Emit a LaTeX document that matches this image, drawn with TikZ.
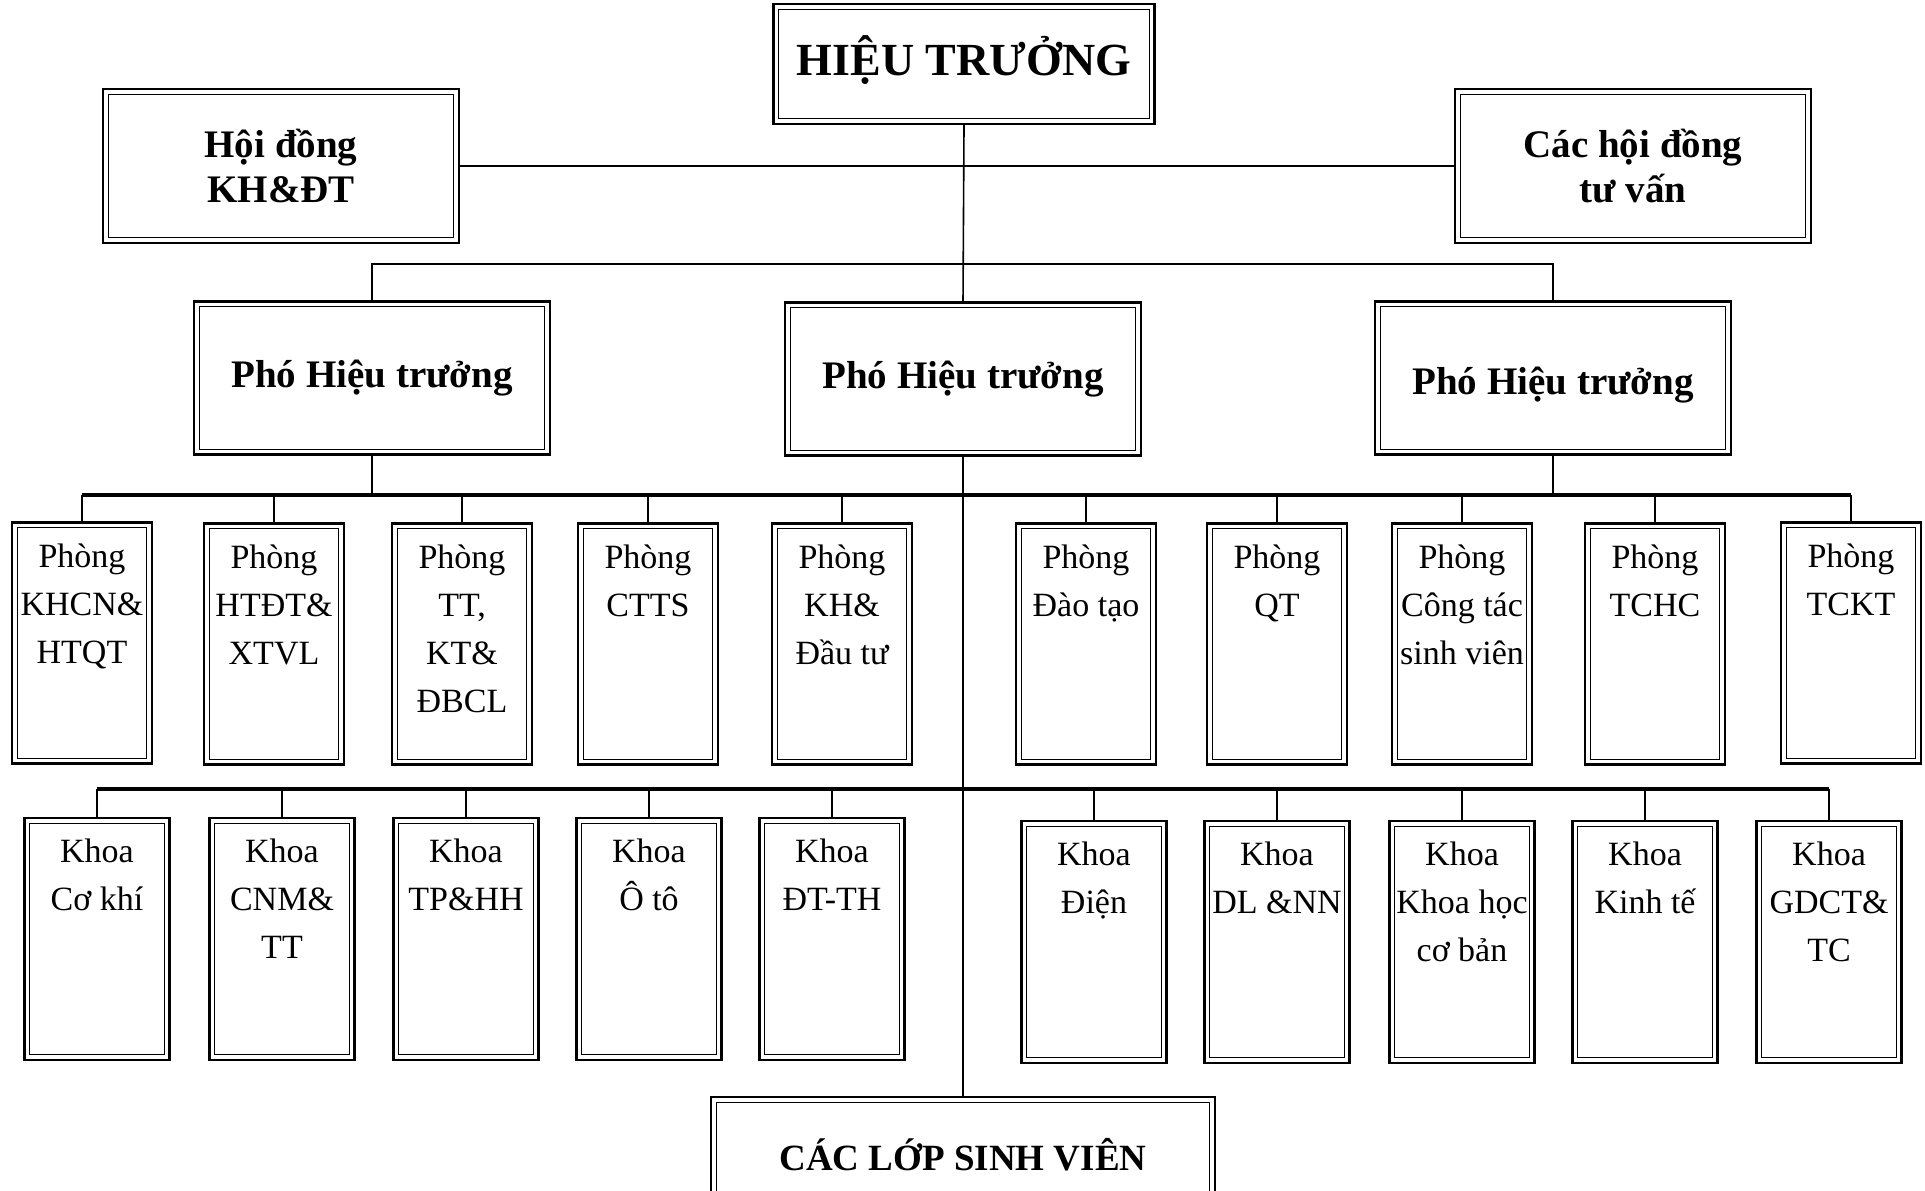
\documentclass[tikz,border=0pt]{standalone}
\usepackage{fontspec}
\setmainfont{Liberation Serif}

\tikzset{
  box/.style={draw, line width=1.2pt, inner sep=0pt,
    path picture={\draw[line width=0.6pt]
      ([shift={(2.6pt,2.6pt)}]path picture bounding box.south west) rectangle
      ([shift={(-2.6pt,-2.6pt)}]path picture bounding box.north east);}},
  head/.style={box, align=center, font=\bfseries\fontsize{19.5}{22.5}\selectfont,
    minimum width=178pt, minimum height=77pt},
  office/.style={box, minimum width=70pt, minimum height=120.5pt},
  faculty/.style={box, minimum width=72.5pt, minimum height=121pt},
  txt/.style={anchor=north, align=center, inner sep=0pt, yshift=-11pt,
    font=\fontsize{17}{24}\selectfont},
  link/.style={line width=0.8pt},
  bus/.style={line width=1.6pt}
}

\begin{document}
\begin{tikzpicture}[x=0.5pt, y=-0.5pt]
\useasboundingbox (0,0) rectangle (1925,1190);

% top level
\node[box, font=\bfseries\fontsize{23}{26}\selectfont, minimum width=190.5pt, minimum height=60pt] (ht) at (964,64) {\raisebox{1.8pt}[\height][\depth]{HIỆU TRƯỞNG}};
\node[head] (hd) at (281,166) {Hội đồng\\KH\&ĐT};
\node[head] (cv) at (1633,166) {Các hội đồng\\tư vấn};

% vice rectors
\node[head, minimum height=76.5pt] (pht1) at (372,378) {Phó Hiệu trưởng};
\node[head, minimum height=76.5pt] (pht2) at (963,379) {Phó Hiệu trưởng};
\node[head, minimum height=76.5pt] (pht3) at (1553,378) {\raisebox{-3.5pt}[\height][\depth]{Phó Hiệu trưởng}};

% offices
\node[office, label={[txt]north:{Phòng\\KHCN\&\\HTQT}}] (p1) at (82,643) {};
\node[office, label={[txt]north:{Phòng\\HTĐT\&\\XTVL}}] (p2) at (274,644) {};
\node[office, label={[txt]north:{Phòng\\TT,\\KT\&\\ĐBCL}}] (p3) at (462,644) {};
\node[office, label={[txt]north:{Phòng\\CTTS}}] (p4) at (648,644) {};
\node[office, label={[txt]north:{Phòng\\KH\&\\Đầu tư}}] (p5) at (842,644) {};
\node[office, label={[txt]north:{Phòng\\Đào tạo}}] (p6) at (1086,644) {};
\node[office, label={[txt]north:{Phòng\\QT}}] (p7) at (1277,644) {};
\node[office, label={[txt]north:{Phòng\\Công tác\\sinh viên}}] (p8) at (1462,644) {};
\node[office, label={[txt]north:{Phòng\\TCHC}}] (p9) at (1655,644) {};
\node[office, label={[txt]north:{Phòng\\TCKT}}] (p10) at (1851,643) {};

% faculties
\node[faculty, label={[txt]north:{Khoa\\Cơ khí}}] (k1) at (97,939) {};
\node[faculty, label={[txt]north:{Khoa\\CNM\&\\TT}}] (k2) at (282,939) {};
\node[faculty, label={[txt]north:{Khoa\\TP\&HH}}] (k3) at (466,939) {};
\node[faculty, label={[txt]north:{Khoa\\Ô tô}}] (k4) at (649,939) {};
\node[faculty, label={[txt]north:{Khoa\\ĐT-TH}}] (k5) at (832,939) {};
\node[faculty, label={[txt]north:{Khoa\\Điện}}] (k6) at (1094,942) {};
\node[faculty, label={[txt]north:{Khoa\\DL \&NN}}] (k7) at (1277,942) {};
\node[faculty, label={[txt]north:{Khoa\\Khoa học\\cơ bản}}] (k8) at (1462,942) {};
\node[faculty, label={[txt]north:{Khoa\\Kinh tế}}] (k9) at (1645,942) {};
\node[faculty, label={[txt]north:{Khoa\\GDCT\&\\TC}}] (k10) at (1829,942) {};

% students
\node[box, anchor=north, minimum width=252pt, minimum height=100pt,
  label={[txt, font=\bfseries\fontsize{18.5}{22}\selectfont, yshift=-10pt]north:{CÁC LỚP SINH VIÊN}}] (lop) at (963,1096) {};

% connectors
\coordinate (pline) at (0,264);
\coordinate (pbus) at (0,495);
\coordinate (kbus) at (0,789);

\draw[link] (hd.east) -- (cv.west);
\draw[link] (ht.south) -- (pht2.north);
\draw[link] (pht1.north) -- (pht1.north |- pline) -- (pht3.north |- pline) -- (pht3.north);
\draw[link] (pht1.south) -- (pht1.south |- pbus);
\draw[link] (pht3.south) -- (pht3.south |- pbus);
\draw[link] (pht2.south) -- (lop.north);

\draw[bus] (p1.north |- pbus) -- (p10.north |- pbus);
\draw[link] (p1.north |- pbus) -- (p1.north);
\draw[link] (p2.north |- pbus) -- (p2.north);
\draw[link] (p3.north |- pbus) -- (p3.north);
\draw[link] (p4.north |- pbus) -- (p4.north);
\draw[link] (p5.north |- pbus) -- (p5.north);
\draw[link] (p6.north |- pbus) -- (p6.north);
\draw[link] (p7.north |- pbus) -- (p7.north);
\draw[link] (p8.north |- pbus) -- (p8.north);
\draw[link] (p9.north |- pbus) -- (p9.north);
\draw[link] (p10.north |- pbus) -- (p10.north);

\draw[bus] (k1.north |- kbus) -- (k10.north |- kbus);
\draw[link] (k1.north |- kbus) -- (k1.north);
\draw[link] (k2.north |- kbus) -- (k2.north);
\draw[link] (k3.north |- kbus) -- (k3.north);
\draw[link] (k4.north |- kbus) -- (k4.north);
\draw[link] (k5.north |- kbus) -- (k5.north);
\draw[link] (k6.north |- kbus) -- (k6.north);
\draw[link] (k7.north |- kbus) -- (k7.north);
\draw[link] (k8.north |- kbus) -- (k8.north);
\draw[link] (k9.north |- kbus) -- (k9.north);
\draw[link] (k10.north |- kbus) -- (k10.north);
\end{tikzpicture}
\end{document}
